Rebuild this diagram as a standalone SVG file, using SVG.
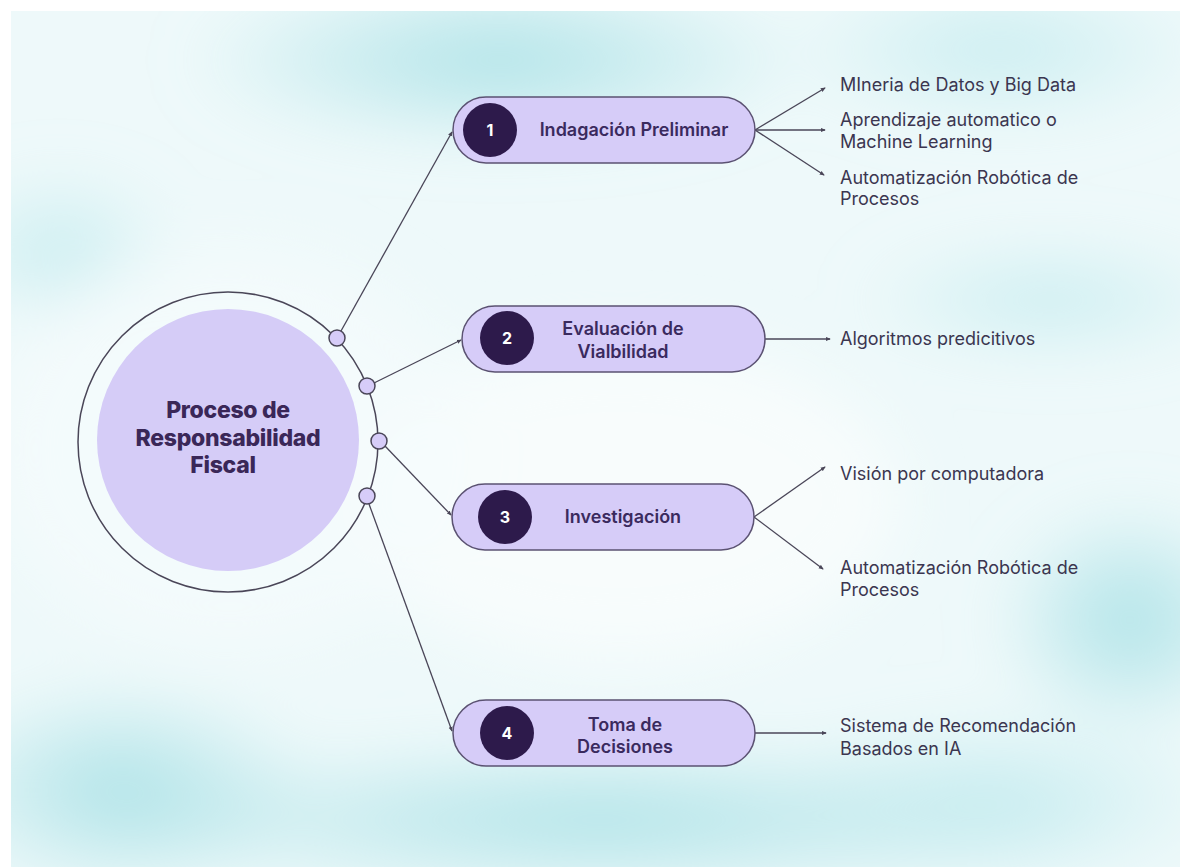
<svg xmlns="http://www.w3.org/2000/svg" width="1180" height="867" viewBox="0 0 1180 867">
  <defs>
    <style>
      .pill { fill: #d6ccf8; stroke: #5b5272; stroke-width: 1.5; }
      .num { fill: #2d1a4b; }
      .numtxt { fill: #ffffff; font-family: Inter, "Liberation Sans", sans-serif; font-weight: 700; font-size: 16px; text-anchor: middle; }
      .title { fill: #3a2a5e; font-family: Inter, "Liberation Sans", sans-serif; font-weight: 600; font-size: 18px; text-anchor: middle; }
      .leaf { fill: #3b3650; font-family: Inter, "Liberation Sans", sans-serif; font-weight: 400; font-size: 18px; }
      .hub { fill: #3a2758; font-family: Inter, "Liberation Sans", sans-serif; font-weight: 800; font-size: 23px; text-anchor: middle; letter-spacing: -0.3px; }
      .link { fill: none; stroke: #4a4658; stroke-width: 1.3; }
      .dot { fill: #d6ccf8; stroke: #4a4658; stroke-width: 1.5; }
    </style>
    <marker id="tip" viewBox="0 0 6 6" refX="5" refY="3" markerWidth="5" markerHeight="5" orient="auto" markerUnits="userSpaceOnUse">
      <path d="M0,0.5 L6,3 L0,5.5 Z" fill="#4a4658"/>
    </marker>
    <filter id="wash" x="-30%" y="-30%" width="160%" height="160%">
      <feGaussianBlur stdDeviation="30"/>
    </filter>
    <radialGradient id="tint" cx="50%" cy="50%" r="50%">
      <stop offset="0" stop-color="#a6e0e5" stop-opacity="0.9"/>
      <stop offset="1" stop-color="#a6e0e5" stop-opacity="0"/>
    </radialGradient>
    <radialGradient id="tintSoft" cx="50%" cy="50%" r="50%">
      <stop offset="0" stop-color="#bce9ed" stop-opacity="0.75"/>
      <stop offset="1" stop-color="#bce9ed" stop-opacity="0"/>
    </radialGradient>
    <clipPath id="paperClip"><rect x="11" y="11" width="1169" height="856"/></clipPath>
  </defs>

  <!-- paper -->
  <rect x="0" y="0" width="1180" height="867" fill="#ffffff"/>
  <rect x="11" y="11" width="1169" height="856" fill="#eef9fa"/>

  <!-- watercolour wash -->
  <g clip-path="url(#paperClip)">
    <g filter="url(#wash)">
      <ellipse cx="500" cy="60" rx="320" ry="90" fill="url(#tint)"/>
      <ellipse cx="1000" cy="50" rx="220" ry="80" fill="url(#tintSoft)"/>
      <ellipse cx="1050" cy="300" rx="200" ry="60" fill="url(#tintSoft)"/>
      <ellipse cx="1130" cy="620" rx="140" ry="120" fill="url(#tint)"/>
      <ellipse cx="600" cy="820" rx="540" ry="80" fill="url(#tint)"/>
      <ellipse cx="120" cy="790" rx="200" ry="110" fill="url(#tint)"/>
      <ellipse cx="1000" cy="800" rx="240" ry="90" fill="url(#tintSoft)"/>
      <ellipse cx="60" cy="250" rx="120" ry="80" fill="url(#tintSoft)"/>
      <ellipse cx="620" cy="500" rx="280" ry="160" fill="#f8fdfd" opacity="0.9"/>
      <ellipse cx="230" cy="450" rx="240" ry="200" fill="#f5fbfc" opacity="0.8"/>
    </g>
  </g>

  <!-- connectors -->
  <g id="connectors">
    <line class="link" x1="341" y1="331" x2="452" y2="132" marker-end="url(#tip)"/>
    <line class="link" x1="374" y1="383" x2="461" y2="340" marker-end="url(#tip)"/>
    <line class="link" x1="385" y1="446" x2="451" y2="515" marker-end="url(#tip)"/>
    <line class="link" x1="369" y1="504" x2="452" y2="731" marker-end="url(#tip)"/>

    <line class="link" x1="755" y1="130" x2="825" y2="88" marker-end="url(#tip)"/>
    <line class="link" x1="755" y1="130" x2="825" y2="130" marker-end="url(#tip)"/>
    <line class="link" x1="755" y1="130" x2="824" y2="175" marker-end="url(#tip)"/>
    <line class="link" x1="765" y1="339" x2="830" y2="339" marker-end="url(#tip)"/>
    <line class="link" x1="754" y1="517" x2="825" y2="467" marker-end="url(#tip)"/>
    <line class="link" x1="754" y1="517" x2="823" y2="569" marker-end="url(#tip)"/>
    <line class="link" x1="755" y1="733" x2="826" y2="733" marker-end="url(#tip)"/>
  </g>

  <!-- central hub -->
  <g id="hub">
    <circle cx="228" cy="442" r="150" fill="none" stroke="#4a4658" stroke-width="1.5"/>
    <circle cx="228" cy="440" r="131" fill="#d5ccf7"/>
    <text class="hub" x="228" y="418">Proceso de</text>
    <text class="hub" x="228" y="446">Responsabilidad</text>
    <text class="hub" x="223" y="473">Fiscal</text>
    <circle class="dot" cx="337" cy="338" r="8"/>
    <circle class="dot" cx="367" cy="386" r="8"/>
    <circle class="dot" cx="379" cy="441" r="8"/>
    <circle class="dot" cx="367" cy="496" r="8"/>
  </g>

  <!-- stage 1 -->
  <g id="stage1">
    <rect class="pill" x="453" y="97" width="302" height="66" rx="33"/>
    <circle class="num" cx="490" cy="130" r="27"/>
    <text class="numtxt" x="490" y="136">1</text>
    <text class="title" x="634" y="136">Indagación Preliminar</text>
  </g>

  <!-- stage 2 -->
  <g id="stage2">
    <rect class="pill" x="462" y="306" width="303" height="66" rx="33"/>
    <circle class="num" cx="507" cy="338" r="27"/>
    <text class="numtxt" x="507" y="344">2</text>
    <text class="title" x="623" y="335">Evaluación de</text>
    <text class="title" x="623" y="358">Vialbilidad</text>
  </g>

  <!-- stage 3 -->
  <g id="stage3">
    <rect class="pill" x="452" y="484" width="302" height="66" rx="33"/>
    <circle class="num" cx="505" cy="517" r="27"/>
    <text class="numtxt" x="505" y="523">3</text>
    <text class="title" x="623" y="523">Investigación</text>
  </g>

  <!-- stage 4 -->
  <g id="stage4">
    <rect class="pill" x="453" y="700" width="302" height="66" rx="33"/>
    <circle class="num" cx="507" cy="733" r="27"/>
    <text class="numtxt" x="507" y="739">4</text>
    <text class="title" x="625" y="731">Toma de</text>
    <text class="title" x="625" y="753">Decisiones</text>
  </g>

  <!-- tools per stage -->
  <g id="tools1">
    <text class="leaf" x="840" y="91">MIneria de Datos y Big Data</text>
    <text class="leaf" x="840" y="126">Aprendizaje automatico o</text>
    <text class="leaf" x="840" y="148">Machine Learning</text>
    <text class="leaf" x="840" y="184">Automatización Robótica de</text>
    <text class="leaf" x="840" y="205">Procesos</text>
  </g>
  <g id="tools2">
    <text class="leaf" x="840" y="345">Algoritmos predicitivos</text>
  </g>
  <g id="tools3">
    <text class="leaf" x="840" y="480">Visión por computadora</text>
    <text class="leaf" x="840" y="574">Automatización Robótica de</text>
    <text class="leaf" x="840" y="596">Procesos</text>
  </g>
  <g id="tools4">
    <text class="leaf" x="840" y="732">Sistema de Recomendación</text>
    <text class="leaf" x="840" y="755">Basados en IA</text>
  </g>
</svg>
